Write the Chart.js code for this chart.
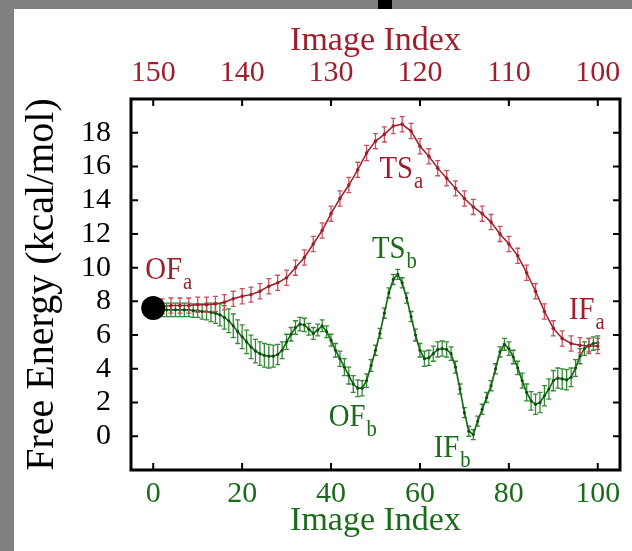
<!DOCTYPE html>
<html>
<head>
<meta charset="utf-8">
<script src="https://cdn.jsdelivr.net/npm/chart.js@4/dist/chart.umd.min.js"></script>
<style>
html,body{margin:0;padding:0;background:#fff;}
#wrap{position:relative;width:632px;height:551px;}
</style>
</head>
<body>
<div id="wrap"><canvas id="c" width="632" height="551"></canvas></div>
<script>
// ---- DATA ----
const bottomTicks = [0, 20, 40, 60, 80, 100];
const topTicks = [150, 140, 130, 120, 110, 100];
const yTicks = [0, 2, 4, 6, 8, 10, 12, 14, 16, 18];

// red path (top axis image index)
const redIndex = [150,149,148,147,146,145,144,143,142,141,140,139,138,137,136,135,134,133,132,131,130,129,128,127,126,125,124,123,122,121,120,119,118,117,116,115,114,113,112,111,110,109,108,107,106,105,104,103,102,101,100];
const redEnergy = [7.6,7.7,7.75,7.75,7.75,7.8,7.8,7.85,7.95,8.15,8.3,8.4,8.6,8.9,9.1,9.4,10.0,10.6,11.4,12.2,13.2,14.1,14.9,15.8,16.8,17.5,17.9,18.4,18.5,18.1,17.2,16.6,15.9,15.3,14.7,14.1,13.6,13.2,12.7,12.0,11.4,10.7,9.7,8.6,7.4,6.4,5.8,5.5,5.4,5.35,5.35];
const redErr = [0.45,0.45,0.45,0.45,0.45,0.45,0.45,0.45,0.45,0.45,0.45,0.45,0.45,0.45,0.45,0.45,0.45,0.45,0.45,0.45,0.45,0.45,0.45,0.45,0.45,0.45,0.45,0.45,0.45,0.45,0.45,0.45,0.45,0.45,0.45,0.45,0.45,0.45,0.45,0.45,0.45,0.45,0.45,0.45,0.45,0.45,0.45,0.45,0.45,0.45,0.45];

// green path (bottom axis image index)
const greenIndex = [0,1,2,3,4,5,6,7,8,9,10,11,12,13,14,15,16,17,18,19,20,21,22,23,24,25,26,27,28,29,30,31,32,33,34,35,36,37,38,39,40,41,42,43,44,45,46,47,48,49,50,51,52,53,54,55,56,57,58,59,60,61,62,63,64,65,66,67,68,69,70,71,72,73,74,75,76,77,78,79,80,81,82,83,84,85,86,87,88,89,90,91,92,93,94,95,96,97,98,99,100];
const greenEnergy = [7.55,7.5,7.5,7.5,7.5,7.5,7.5,7.5,7.5,7.45,7.45,7.4,7.4,7.35,7.3,7.2,7.05,6.85,6.55,6.2,5.9,5.6,5.3,5.05,4.9,4.8,4.75,4.75,4.85,5.1,5.6,6.05,6.45,6.65,6.6,6.35,6.1,6.3,6.55,6.2,5.7,5.1,4.6,4.1,3.6,3.1,2.85,2.85,3.3,4.2,5.1,6.1,7.3,8.5,9.3,9.6,9.1,8.2,7.1,6.0,5.1,4.6,4.65,4.9,5.15,5.2,5.15,4.9,4.1,2.8,1.4,0.3,0.1,0.9,1.6,2.3,3.0,4.0,5.0,5.45,5.2,4.7,4.05,3.3,2.6,2.1,1.9,2.0,2.4,2.8,3.3,3.45,3.4,3.35,3.5,4.05,4.75,5.2,5.4,5.5,5.55];
const greenErr = [0.4,0.4,0.4,0.4,0.4,0.4,0.4,0.4,0.4,0.4,0.4,0.45,0.5,0.55,0.6,0.65,0.7,0.7,0.7,0.7,0.7,0.7,0.7,0.7,0.7,0.7,0.7,0.65,0.6,0.5,0.45,0.4,0.4,0.4,0.4,0.35,0.35,0.35,0.35,0.35,0.35,0.4,0.45,0.5,0.5,0.5,0.5,0.45,0.4,0.35,0.3,0.3,0.3,0.3,0.3,0.3,0.3,0.3,0.3,0.35,0.4,0.45,0.45,0.45,0.45,0.45,0.45,0.4,0.35,0.3,0.3,0.3,0.3,0.3,0.3,0.3,0.3,0.3,0.3,0.35,0.4,0.4,0.4,0.45,0.5,0.55,0.6,0.6,0.6,0.6,0.6,0.6,0.6,0.6,0.55,0.5,0.45,0.4,0.4,0.4,0.4];

// start marker
const startMarker = [{x: 0, y: 7.6}];

// state labels: [main, sub, bottom-axis x, energy y, colour key]
const stateLabels = [
  ['OF', 'a', -1.8, 9.3, 'red'],
  ['TS', 'a', 50.9, 15.3, 'red'],
  ['IF', 'a', 93.5, 6.95, 'red'],
  ['TS', 'b', 49.2, 10.55, 'green'],
  ['OF', 'b', 39.5, 0.6, 'green'],
  ['IF', 'b', 63.1, -1.2, 'green']
];

// ---- STYLE ----
const RED = '#9e1f2b';
const RED_LIGHT = '#c8505e';
const GREEN = '#1b6b1b';
const GREEN_LIGHT = '#348a34';
const FONT = '"Liberation Serif", "Times New Roman", serif';

const errArrays = {red: redErr, green: greenErr};

const errorBarPlugin = {
  id: 'errbars',
  beforeDatasetDraw(chart, args) {
    const ds = chart.data.datasets[args.index];
    if (!ds.errKey) return;
    const errs = errArrays[ds.errKey];
    const meta = args.meta;
    const ys = meta.yScale, xs = meta.xScale;
    const ctx = chart.ctx;
    ctx.save();
    ctx.strokeStyle = ds.errColor;
    ctx.lineWidth = 1.3;
    ds.data.forEach((p, i) => {
      const px = xs.getPixelForValue(p.x);
      const y1 = ys.getPixelForValue(p.y + errs[i]);
      const y2 = ys.getPixelForValue(p.y - errs[i]);
      ctx.beginPath();
      ctx.moveTo(px, y1); ctx.lineTo(px, y2);
      ctx.moveTo(px - 2.5, y1); ctx.lineTo(px + 2.5, y1);
      ctx.moveTo(px - 2.5, y2); ctx.lineTo(px + 2.5, y2);
      ctx.stroke();
    });
    ctx.restore();
  }
};

const framePlugin = {
  id: 'frame',
  beforeDraw(chart) {
    const ctx = chart.ctx;
    ctx.save();
    ctx.fillStyle = '#ffffff';
    ctx.fillRect(0, 0, chart.width, chart.height);
    ctx.fillStyle = '#808080';
    ctx.fillRect(0, 0, chart.width, 9);
    ctx.fillRect(0, 0, 14, chart.height);
    ctx.fillStyle = '#000';
    ctx.fillRect(378, 0, 14, 9);
    ctx.restore();
  },
  afterDraw(chart) {
    const ctx = chart.ctx;
    const a = chart.chartArea;
    const sx = chart.scales.x, sx2 = chart.scales.x2, sy = chart.scales.y;
    ctx.save();
    ctx.strokeStyle = '#000';
    ctx.lineWidth = 2;
    const tl = 7;
    ctx.beginPath();
    sy.ticks.forEach(t => {
      const py = sy.getPixelForValue(t.value);
      ctx.moveTo(a.left, py); ctx.lineTo(a.left + tl, py);
      ctx.moveTo(a.right, py); ctx.lineTo(a.right - tl, py);
    });
    sx.ticks.forEach(t => {
      const px = sx.getPixelForValue(t.value);
      ctx.moveTo(px, a.bottom); ctx.lineTo(px, a.bottom - tl);
    });
    sx2.ticks.forEach(t => {
      const px = sx2.getPixelForValue(t.value);
      ctx.moveTo(px, a.top); ctx.lineTo(px, a.top + tl);
    });
    ctx.stroke();
    ctx.lineWidth = 3;
    ctx.strokeRect(a.left, a.top, a.right - a.left, a.bottom - a.top);
    // state labels
    stateLabels.forEach(([main, sub, x, y, col]) => {
      const px = sx.getPixelForValue(x);
      const py = sy.getPixelForValue(y);
      ctx.fillStyle = col === 'red' ? RED : GREEN;
      ctx.save();
      ctx.translate(px, py);
      ctx.scale(0.9, 1);
      ctx.textBaseline = 'alphabetic';
      ctx.textAlign = 'left';
      ctx.font = '32px ' + FONT;
      ctx.fillText(main, 0, 0);
      const w = ctx.measureText(main).width;
      ctx.font = '23px ' + FONT;
      ctx.fillText(sub, w + 1, 10);
      ctx.restore();
    });
    ctx.restore();
  }
};

const chart = new Chart(document.getElementById('c'), {
  type: 'line',
  data: {
    datasets: [
      {
        label: 'start',
        data: startMarker,
        xAxisID: 'x', yAxisID: 'y',
        showLine: false,
        pointRadius: 12,
        pointBackgroundColor: '#000',
        pointBorderColor: '#000',
        pointBorderWidth: 0
      },
      {
        label: 'a',
        data: redIndex.map((v, i) => ({x: v, y: redEnergy[i]})),
        xAxisID: 'x2', yAxisID: 'y',
        borderColor: RED,
        borderWidth: 1.5,
        pointRadius: 1.8,
        pointBackgroundColor: RED,
        pointBorderWidth: 0,
        tension: 0,
        errKey: 'red',
        errColor: RED_LIGHT
      },
      {
        label: 'b',
        data: greenIndex.map((v, i) => ({x: v, y: greenEnergy[i]})),
        xAxisID: 'x', yAxisID: 'y',
        borderColor: GREEN,
        borderWidth: 1.7,
        pointRadius: 1.6,
        pointBackgroundColor: '#0f4f0f',
        pointBorderWidth: 0,
        tension: 0,
        errKey: 'green',
        errColor: GREEN_LIGHT
      }
    ]
  },
  options: {
    responsive: false,
    animation: false,
    events: [],
    layout: {padding: {left: 14, top: 9, right: 6, bottom: 0}},
    plugins: {legend: {display: false}, tooltip: {enabled: false}},
    scales: {
      x: {
        type: 'linear', position: 'bottom', min: -5, max: 105,
        afterBuildTicks: s => { s.ticks = bottomTicks.map(v => ({value: v})); },
        afterFit: s => { s.height = 81; },
        grid: {display: false, drawTicks: false},
        border: {display: false},
        ticks: {color: GREEN, font: {family: FONT, size: 30}, padding: 6, maxRotation: 0},
        title: {display: true, text: 'Image Index', color: GREEN, font: {family: FONT, size: 34}, padding: {top: 0, bottom: 10}}
      },
      x2: {
        type: 'linear', position: 'top', min: 97.5, max: 152.5, reverse: true,
        afterBuildTicks: s => { s.ticks = topTicks.map(v => ({value: v})); },
        afterFit: s => { s.height = 90; },
        grid: {display: false, drawTicks: false},
        border: {display: false},
        ticks: {color: RED, font: {family: FONT, size: 30}, padding: 8, maxRotation: 0},
        title: {display: true, text: 'Image Index', color: RED, font: {family: FONT, size: 34}, padding: {top: 12, bottom: 0}}
      },
      y: {
        type: 'linear', position: 'left', min: -2, max: 20,
        afterBuildTicks: s => { s.ticks = yTicks.map(v => ({value: v})); },
        afterFit: s => { s.width = 117; },
        grid: {display: false, drawTicks: false},
        border: {display: false},
        ticks: {color: '#000', font: {family: FONT, size: 30}, padding: 20},
        title: {display: true, text: 'Free Energy (kcal/mol)', color: '#000', font: {family: FONT, size: 40}, padding: {top: 4, bottom: 0}}
      }
    }
  },
  plugins: [framePlugin, errorBarPlugin]
});
</script>
</body>
</html>
